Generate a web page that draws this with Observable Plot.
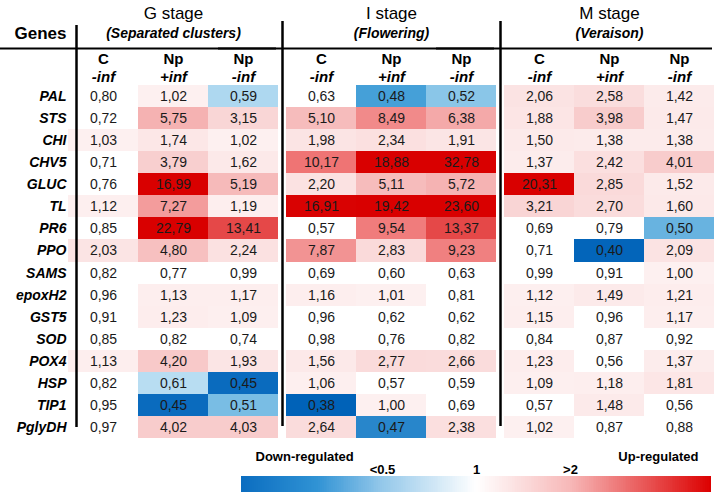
<!DOCTYPE html>
<html><head><meta charset="utf-8">
<script src="https://cdn.jsdelivr.net/npm/d3@7"></script>
<script src="https://cdn.jsdelivr.net/npm/@observablehq/plot@0.6"></script>
<style>
html,body{margin:0;padding:0;background:#fff;}
#chart{width:721px;height:500px;font-family:"Liberation Sans",Arial,sans-serif;}
#chart svg{display:block;}
</style></head><body><div id="chart"></div>
<script>
const genes = ["PAL","STS","CHI","CHV5","GLUC","TL","PR6","PPO","SAMS","epoxH2","GST5","SOD","POX4","HSP","TIP1","PglyDH"];
const stages = ["G","I","M"];
const stageTitles = ["G stage","I stage","M stage"];
const stageSubtitles = ["(Separated clusters)","(Flowering)","(Veraison)"];
const columns = ["C -inf","Np +inf","Np -inf"];
const columnNames = ["C","Np","Np"];
const columnInf = ["-inf","+inf","-inf"];
const gStage = [[0.80,1.02,0.59],[0.72,5.75,3.15],[1.03,1.74,1.02],[0.71,3.79,1.62],[0.76,16.99,5.19],[1.12,7.27,1.19],[0.85,22.79,13.41],[2.03,4.80,2.24],[0.82,0.77,0.99],[0.96,1.13,1.17],[0.91,1.23,1.09],[0.85,0.82,0.74],[1.13,4.20,1.93],[0.82,0.61,0.45],[0.95,0.45,0.51],[0.97,4.02,4.03]];
const iStage = [[0.63,0.48,0.52],[5.10,8.49,6.38],[1.98,2.34,1.91],[10.17,18.88,32.78],[2.20,5.11,5.72],[16.91,19.42,23.60],[0.57,9.54,13.37],[7.87,2.83,9.23],[0.69,0.60,0.63],[1.16,1.01,0.81],[0.96,0.62,0.62],[0.98,0.76,0.82],[1.56,2.77,2.66],[1.06,0.57,0.59],[0.38,1.00,0.69],[2.64,0.47,2.38]];
const mStage = [[2.06,2.58,1.42],[1.88,3.98,1.47],[1.50,1.38,1.38],[1.37,2.42,4.01],[20.31,2.85,1.52],[3.21,2.70,1.60],[0.69,0.79,0.50],[0.71,0.40,2.09],[0.99,0.91,1.00],[1.12,1.49,1.21],[1.15,0.96,1.17],[0.84,0.87,0.92],[1.23,0.56,1.37],[1.09,1.18,1.81],[0.57,1.48,0.56],[1.02,0.87,0.88]];
// cells shown as significantly down-regulated (blue)
const downRegulated = [["G","PAL","Np -inf"],["I","PAL","Np +inf"],["I","PAL","Np -inf"],["G","HSP","Np +inf"],["G","HSP","Np -inf"],["G","TIP1","Np +inf"],["G","TIP1","Np -inf"],["I","TIP1","C -inf"],["I","PglyDH","Np +inf"],["M","PR6","Np -inf"],["M","PPO","Np +inf"]];
const legendTicks = [0.5, 1, 2];
const legendTickLabels = ["<0.5","1",">2"];
const legendEnds = ["Down-regulated","Up-regulated"];

const FONT = '"Liberation Sans", Arial, sans-serif';
const colW = 70, gap = 8;
const stageValues = {G: gStage, I: iStage, M: mStage};
const cells = stages.flatMap(s => genes.flatMap((g, gi) => columns.map((c, ci) => ({
  stage: s, gene: g, col: c, value: stageValues[s][gi][ci],
  down: downRegulated.some(([ds, dg, dc]) => ds === s && dg === g && dc === c)
}))));

const hdr = {frameAnchor: "top", lineAnchor: "middle", textAnchor: "middle", fill: "#000"};

const main = Plot.plot({
  width: 721, height: 444,
  marginLeft: 68, marginRight: 7, marginTop: 85, marginBottom: 6,
  style: {fontFamily: FONT, color: "#000", background: "white", overflow: "visible"},
  fx: {domain: stages, paddingInner: gap / (3 * colW + gap), paddingOuter: 0, round: false, axis: null, label: null},
  x: {domain: columns, padding: 0, round: false, axis: null},
  y: {domain: genes, padding: 0, round: false, label: null},
  color: {type: "linear", domain: [0.38, 0.46, 0.48, 0.52, 0.62, 0.999, 1, 4, 8, 10, 13.4, 17],
          range: ["#0062b8", "#0b6cbf", "#45a0d8", "#8ac6e8", "#bde0f3", "#ffffff", "#fdf0f0", "#f8cccc", "#f29191", "#ef7676", "#e54848", "#d90000"],
          interpolate: d3.interpolateRgb, clamp: true},
  marks: [
    Plot.cell(cells, {fx: "stage", x: "col", y: "gene",
      fill: d => d.down ? d.value : Math.max(d.value, 0.999), inset: 0, shapeRendering: "crispEdges"}),
    Plot.text(cells, {fx: "stage", x: "col", y: "gene",
      text: d => d.value.toFixed(2).replace(".", ","), fontSize: 14, fill: "#1a1a1a"}),
    Plot.axisY({tickSize: 0, tickPadding: 2, fontSize: 14, fontWeight: "bold", fontStyle: "italic", label: null, fill: "#000"}),
    Plot.text(stages, {...hdr, fx: d => d, text: (d, i) => stageTitles[i], dy: -72, fontSize: 17}),
    Plot.text(stages, {...hdr, fx: d => d, text: (d, i) => stageSubtitles[i], dy: -52, fontSize: 14, fontWeight: "bold", fontStyle: "italic"}),
    Plot.text(columns, {...hdr, x: d => d, text: (d, i) => columnNames[i], dy: -26, fontSize: 15, fontWeight: "bold"}),
    Plot.text(columns, {...hdr, x: d => d, text: (d, i) => columnInf[i], dy: -8, fontSize: 15, fontWeight: "bold", fontStyle: "italic"}),
    Plot.text(["Genes"], {...hdr, fx: () => "G", text: d => d, frameAnchor: "top-left", dx: -28, dy: -52, fontSize: 17, fontWeight: "bold"}),
    Plot.ruleX(["G"], {fx: d => d, x: () => columns[0], dx: -colW / 2 + 8, insetTop: -60, insetBottom: 11, strokeWidth: 2.5, stroke: "#000"}),
    Plot.ruleX(["I", "M"], {fx: d => d, x: () => columns[0], dx: -colW / 2 - gap / 2, insetTop: -64, insetBottom: 12, strokeWidth: 2.5, stroke: "#000"}),
    Plot.ruleY([genes[0]], {y: d => d, dy: -48, insetLeft: -68, insetRight: 2, strokeWidth: 2, stroke: "#000"})
  ]
});

const ramp = d3.range(-2.5, 2.5, 0.02);
const legend = Plot.plot({
  width: 721, height: 56,
  marginLeft: 241, marginRight: 10, marginTop: 32, marginBottom: 8,
  style: {fontFamily: FONT, color: "#000", background: "white", overflow: "visible"},
  x: {domain: [-2.5, 2.5], axis: null},
  color: {type: "linear", domain: [-2.5, -1.7, -1, 0, 1, 2.5],
          range: ["#0b6dc0", "#2f92d4", "#94c8ea", "#ffffff", "#f7b8b8", "#dc0000"],
          interpolate: d3.interpolateRgb, clamp: true},
  marks: [
    Plot.rect(ramp, {x1: d => d, x2: d => Math.min(d + 0.025, 2.5), fill: d => d + 0.01, shapeRendering: "crispEdges"}),
    Plot.text(legendTicks, {...hdr, x: d => Math.log2(d), text: (d, i) => legendTickLabels[i], dy: -7, fontSize: 13, fontWeight: "bold"}),
    Plot.text([legendEnds[0]], {...hdr, x: () => -2.5, text: d => d, textAnchor: "start", dx: 14, dy: -20, fontSize: 13, fontWeight: "bold"}),
    Plot.text([legendEnds[1]], {...hdr, x: () => 2.5, text: d => d, textAnchor: "end", dx: -13, dy: -20, fontSize: 13, fontWeight: "bold"})
  ]
});

document.getElementById("chart").append(main, legend);
</script>
</body></html>
